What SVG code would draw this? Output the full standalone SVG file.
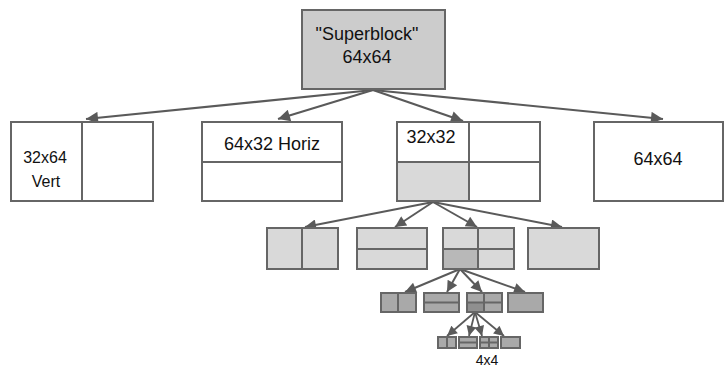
<svg xmlns="http://www.w3.org/2000/svg" width="726" height="369" viewBox="0 0 726 369">
<defs>
<style>
.bx{stroke:#666;stroke-width:2}
.w{fill:#fff}
.g0{fill:#cccccc}
.g1{fill:#d9d9d9}
.g2{fill:#b8b8b8}
.g3{fill:#a9a9a9}
.g4{fill:#8f8f8f}
.dv{stroke:#666;stroke-width:2;fill:none}
.t{font-family:"Liberation Sans",Arial,sans-serif;fill:#111;text-anchor:middle}
.c{stroke:#5a5a5a;fill:none}
</style>
<marker id="a1" viewBox="0 0 10 10" refX="10" refY="5" markerUnits="userSpaceOnUse" markerWidth="15" markerHeight="12" orient="auto"><path d="M0,0 L10,5 L0,10 z" fill="#5a5a5a"/></marker>
<marker id="a2" viewBox="0 0 10 10" refX="10" refY="5" markerUnits="userSpaceOnUse" markerWidth="13" markerHeight="11" orient="auto"><path d="M0,0 L10,5 L0,10 z" fill="#5a5a5a"/></marker>
<marker id="a3" viewBox="0 0 10 10" refX="10" refY="5" markerUnits="userSpaceOnUse" markerWidth="12" markerHeight="10" orient="auto"><path d="M0,0 L10,5 L0,10 z" fill="#5a5a5a"/></marker>
</defs>

<g id="connectors">
<line class="c" stroke-width="2.2" x1="373" y1="90" x2="86" y2="119" marker-end="url(#a1)"/>
<line class="c" stroke-width="2.2" x1="373" y1="90" x2="278" y2="119" marker-end="url(#a1)"/>
<line class="c" stroke-width="2.2" x1="373" y1="90" x2="463" y2="121" marker-end="url(#a1)"/>
<line class="c" stroke-width="2.2" x1="373" y1="90" x2="663" y2="119" marker-end="url(#a1)"/>
<line class="c" stroke-width="2" x1="433" y1="202" x2="305" y2="227" marker-end="url(#a2)"/>
<line class="c" stroke-width="2" x1="433" y1="202" x2="395" y2="227" marker-end="url(#a2)"/>
<line class="c" stroke-width="2" x1="433" y1="202" x2="477" y2="227" marker-end="url(#a2)"/>
<line class="c" stroke-width="2" x1="433" y1="202" x2="562" y2="227" marker-end="url(#a2)"/>
<line class="c" stroke-width="2" x1="460" y1="269" x2="405" y2="292" marker-end="url(#a2)"/>
<line class="c" stroke-width="2" x1="460" y1="269" x2="447" y2="292" marker-end="url(#a2)"/>
<line class="c" stroke-width="2" x1="460" y1="269" x2="482" y2="292" marker-end="url(#a2)"/>
<line class="c" stroke-width="2" x1="460" y1="269" x2="525" y2="292" marker-end="url(#a2)"/>
<line class="c" stroke-width="1.8" x1="475" y1="312" x2="447" y2="336" marker-end="url(#a3)"/>
<line class="c" stroke-width="1.8" x1="475" y1="312" x2="469" y2="336" marker-end="url(#a3)"/>
<line class="c" stroke-width="1.8" x1="475" y1="312" x2="482" y2="336" marker-end="url(#a3)"/>
<line class="c" stroke-width="1.8" x1="475" y1="312" x2="504" y2="336" marker-end="url(#a3)"/>
</g>

<g id="superblock">
<rect class="bx g0" x="302" y="10" width="143" height="79"/>
<text class="t" x="367" y="40" font-size="18">"Superblock"</text>
<text class="t" x="367" y="63" font-size="18">64x64</text>
</g>

<g id="vert">
<rect class="bx w" x="11" y="122" width="142" height="79"/>
<line class="dv" x1="82" y1="122" x2="82" y2="201"/>
<text class="t" x="45" y="163" font-size="16">32x64</text>
<text class="t" x="46" y="187" font-size="16">Vert</text>
</g>

<g id="horiz">
<rect class="bx w" x="202" y="122" width="140" height="79"/>
<line class="dv" x1="202" y1="162" x2="342" y2="162"/>
<text class="t" x="272" y="150" font-size="18">64x32 Horiz</text>
</g>

<g id="split">
<rect class="bx w" x="397" y="122" width="143" height="79"/>
<rect class="g1" x="398" y="163" width="70" height="37"/>
<line class="dv" x1="469" y1="122" x2="469" y2="201"/>
<line class="dv" x1="397" y1="162" x2="540" y2="162"/>
<text class="t" x="431" y="143" font-size="18">32x32</text>
</g>

<g id="none">
<rect class="bx w" x="594" y="122" width="129" height="79"/>
<text class="t" x="658" y="165" font-size="18">64x64</text>
</g>

<g id="l2-vert">
<rect class="bx g1" x="267" y="228" width="71" height="41"/>
<line class="dv" x1="302" y1="228" x2="302" y2="269"/>
</g>
<g id="l2-horiz">
<rect class="bx g1" x="357" y="228" width="70" height="41"/>
<line class="dv" x1="357" y1="249" x2="427" y2="249"/>
</g>
<g id="l2-split">
<rect class="bx g1" x="443" y="228" width="71" height="41"/>
<rect class="g2" x="444" y="250" width="34" height="18"/>
<line class="dv" x1="478" y1="228" x2="478" y2="269"/>
<line class="dv" x1="443" y1="249" x2="514" y2="249"/>
</g>
<g id="l2-none">
<rect class="bx g1" x="528" y="228" width="71" height="41"/>
</g>

<g id="l3-vert">
<rect class="bx g3" x="381" y="293" width="35" height="19"/>
<line class="dv" x1="398" y1="293" x2="398" y2="312"/>
</g>
<g id="l3-horiz">
<rect class="bx g3" x="424" y="293" width="35" height="19"/>
<line class="dv" x1="424" y1="302.5" x2="459" y2="302.5"/>
</g>
<g id="l3-split">
<rect class="bx g3" x="467" y="293" width="35" height="19"/>
<rect class="g4" x="468" y="303" width="16" height="8"/>
<line class="dv" x1="484" y1="293" x2="484" y2="312"/>
<line class="dv" x1="467" y1="302.5" x2="502" y2="302.5"/>
</g>
<g id="l3-none">
<rect class="bx g3" x="508" y="293" width="35" height="19"/>
</g>

<g id="l4-vert">
<rect class="bx g3" x="438" y="337" width="18" height="11" stroke-width="1.5"/>
<line class="dv" x1="447" y1="337" x2="447" y2="348" stroke-width="1.5"/>
</g>
<g id="l4-horiz">
<rect class="bx g3" x="459" y="337" width="18" height="11" stroke-width="1.5"/>
<line class="dv" x1="459" y1="342.5" x2="477" y2="342.5" stroke-width="1.5"/>
</g>
<g id="l4-split">
<rect class="bx g3" x="480" y="337" width="18" height="11" stroke-width="1.5"/>
<line class="dv" x1="489" y1="337" x2="489" y2="348" stroke-width="1.5"/>
<line class="dv" x1="480" y1="342.5" x2="498" y2="342.5" stroke-width="1.5"/>
</g>
<g id="l4-none">
<rect class="bx g3" x="501" y="337" width="19" height="11" stroke-width="1.5"/>
</g>

<g id="label-4x4">
<text class="t" x="487" y="365" font-size="14">4x4</text>
</g>
</svg>
